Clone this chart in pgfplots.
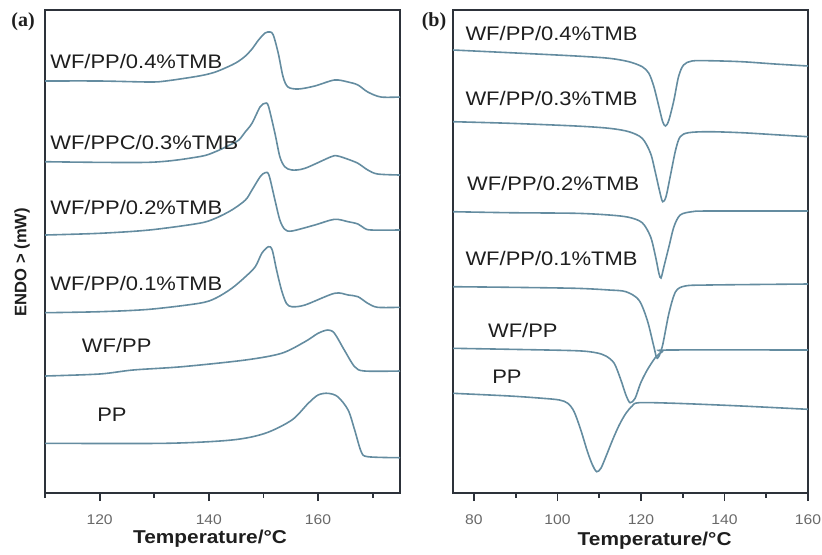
\documentclass[border=0pt]{standalone}
\usepackage{pgfplots}
\pgfplotsset{compat=1.18}
\usepackage{fontspec}
\setmainfont{Liberation Sans}[FakeStretch=1.12]
\newfontfamily\plainsans{Liberation Sans}
\newfontfamily\serifb{Liberation Serif}
\definecolor{curve}{RGB}{100,140,160}
\definecolor{frame}{RGB}{45,50,58}
\definecolor{txt}{RGB}{30,30,30}
\definecolor{ticktxt}{RGB}{105,105,105}
\pgfplotsset{
  dsc/.style={scale only axis, width=177.5pt, height=241.5pt,
    ymin=0, ymax=483, ytick=\empty,
    axis line style={line width=1pt, draw=frame},
    tick align=outside, xtick pos=lower,
    major tick length=4pt, minor tick length=2.5pt,
    every tick/.style={draw=frame, line width=0.9pt},
    xticklabel style={font=\fontsize{7}{8}\selectfont, text=ticktxt, yshift=-3.5pt},
    /pgf/number format/assume math mode=true,
    xlabel style={font=\bfseries\fontsize{9.3}{10}\selectfont, text=txt, anchor=center},
  },
}
\tikzset{lab/.style={anchor=west, inner sep=0pt, text=txt, font=\fontsize{9.8}{11}\selectfont},
  crv/.style={draw=curve, line width=0.8pt, smooth, tension=0.5, mark=none}}
\begin{document}
\begin{tikzpicture}
\useasboundingbox (0,0) rectangle (411pt,277pt);
% ---------------- panel (a) ----------------
\begin{axis}[dsc, at={(22.5pt,30.5pt)}, anchor=south west,
  xmin=110, xmax=175, xtick={120,140,160}, minor xtick={110,130,150,170},
  xlabel={Temperature/°C}, xlabel style={at={(axis description cs:0.465,-0.095)}}]
% WF/PP/0.4%TMB
\addplot[crv] coordinates {(110,412) (120,412) (129.1,411) (132.1,412) (138.2,417) (141.2,421) (144.2,428) (145.5,432) (146.7,437) (147.9,444) (149.1,453) (150.3,460) (151.2,461) (151.8,458) (152.7,440) (153.6,416) (154.5,406) (156.4,404) (159.4,407) (163.0,413) (165.5,411) (167.3,408) (169.1,401) (171.5,396) (175,396)};
% WF/PPC/0.3%TMB
\addplot[crv] coordinates {(110,331.3) (129.1,330.7) (138.2,336.3) (141.2,341.3) (144.2,349) (145.5,353) (146.7,361.3) (147.9,369.7) (149.4,386.3) (150.3,389.7) (150.9,387) (152.1,359.7) (153.0,336.3) (153.9,326.3) (155.2,323) (157.6,324.7) (162.4,336.3) (163.6,337) (165.5,333.7) (167.3,329.7) (169.1,323) (170.9,319) (175,318)};
% WF/PP/0.2%TMB
\addplot[crv] coordinates {(110,258) (120,259.7) (129.1,263) (138.2,269.7) (141.2,274.7) (144.2,283) (146.7,293) (147.9,303) (149.4,316.3) (150.3,320.3) (151.0,318) (152.1,293) (153.0,273) (153.9,263.7) (155.2,262) (159.4,268) (163.0,273.7) (165.5,271.3) (167.3,269) (168.5,264.7) (169.7,263) (175,263)};
% WF/PP/0.1%TMB
\addplot[crv] coordinates {(110,180.3) (120,181.3) (129.1,183.7) (138.2,189.7) (141.2,194.7) (144.2,204.7) (146.7,216.3) (148.5,226.3) (149.7,239.7) (150.9,246.3) (151.6,243) (152.4,223) (153.3,203) (154.2,189.7) (155.2,186.3) (157.6,188) (163.0,199.7) (165.5,198) (167.3,196.3) (169.1,189.7) (170.9,185.7) (175,185.7)};
% WF/PP
\addplot[crv] coordinates {(110,117) (120,119) (126.1,123) (135.1,126.3) (146.7,133) (153.3,139.7) (157.6,151.3) (160,159.7) (161.8,163) (163.0,159.7) (164.8,143) (166.7,126.3) (168.5,122) (175,122)};
% PP
\addplot[crv] coordinates {(110,49.7) (132.1,49.7) (144.2,53) (150.3,59.7) (155.2,73) (158.2,89.7) (160,98) (161.8,99.7) (163.6,96.3) (165.5,83) (166.7,63) (167.9,41.3) (169.1,36.3) (175,35.3)};
\node[lab] at (axis cs:110.9,432) {WF/PP/0.4\%TMB};
\node[lab] at (axis cs:110.9,351) {WF/PPC/0.3\%TMB};
\node[lab] at (axis cs:110.9,286) {WF/PP/0.2\%TMB};
\node[lab] at (axis cs:110.9,210) {WF/PP/0.1\%TMB};
\node[lab] at (axis cs:116.7,148) {WF/PP};
\node[lab] at (axis cs:119.5,78) {PP};
\end{axis}
% ---------------- panel (b) ----------------
\begin{axis}[dsc, at={(226.5pt,30.5pt)}, anchor=south west,
  xmin=75, xmax=160, xtick={80,100,120,140,160}, minor xtick={90,110,130,150},
  xlabel={Temperature/°C}, xlabel style={at={(axis description cs:0.568,-0.099)}}]
% WF/PP/0.4%TMB
\addplot[crv] coordinates {(75,443) (88.6,440.3) (104.4,437) (112.4,434.7) (117.1,431.3) (120.3,426.3) (121.9,419.7) (123.1,406.3) (124.3,386.3) (125.2,371.3) (125.9,367) (126.7,373) (127.9,393) (129.0,416.3) (130.2,428) (132.2,432) (136.2,432.3) (144.1,431.3) (152.1,429) (160,427)};
% WF/PP/0.3%TMB
\addplot[crv] coordinates {(75,371.3) (88.6,369.7) (104.4,367) (112.4,364.7) (117.1,361.3) (120.3,354.7) (122.3,339.7) (123.5,319.7) (124.5,301.3) (125.2,291.3) (126.0,296.3) (127.0,316.3) (128.3,343) (129.4,356.3) (131.4,360.3) (136.2,361.3) (144.1,360.3) (152.1,358.3) (160,356.3)};
% WF/PP/0.2%TMB
\addplot[crv] coordinates {(75,281.3) (88.6,280.3) (104.4,279.7) (112.4,278) (117.1,275.7) (120.3,270.3) (122.3,256.3) (123.5,236.3) (124.3,219.7) (124.8,215) (125.5,226.3) (126.7,246.3) (127.9,266.3) (129.4,278) (132.2,281.3) (136.2,282) (160,282)};
% WF/PP/0.1%TMB
\addplot[crv] coordinates {(75,206.3) (88.6,205.7) (104.4,204.7) (112.4,203) (116.4,201.3) (119.5,193) (121.5,173) (123.1,146.3) (123.9,134.7) (125.1,146.3) (126.7,179.7) (128.3,201.3) (130.6,207) (136.2,208) (160,209)};
% WF/PP
\addplot[crv] coordinates {(75,144.7) (88.6,143.7) (104.4,142.3) (109.2,140.3) (111.6,137) (113.6,129.7) (115.2,113) (116.4,98) (117.4,90.3) (118.6,94.7) (119.9,109.7) (121.5,123) (123.5,135.7) (125.1,141.3) (126.7,143) (160,143)};
% PP
\addplot[crv] coordinates {(75,99.7) (88.6,97) (96.5,94.7) (100.5,93) (102.5,89.7) (104.0,81.3) (105.6,63) (107.2,41.3) (108.4,28) (109.4,21.3) (110.4,24.7) (111.6,36.3) (113.2,53) (114.8,68) (116.4,79.7) (117.9,87) (119.5,90.3) (128.3,89.7) (144.1,87) (160,83.7)};
\node[lab] at (axis cs:77.9,460) {WF/PP/0.4\%TMB};
\node[lab] at (axis cs:77.9,395) {WF/PP/0.3\%TMB};
\node[lab] at (axis cs:78.3,310) {WF/PP/0.2\%TMB};
\node[lab] at (axis cs:77.9,235) {WF/PP/0.1\%TMB};
\node[lab] at (axis cs:83.3,163) {WF/PP};
\node[lab] at (axis cs:84.3,116) {PP};
\end{axis}
\node[font=\serifb\bfseries\fontsize{10}{12}\selectfont, text=txt] at (11.5pt,266pt) {(a)};
\node[font=\serifb\bfseries\fontsize{10}{12}\selectfont, text=txt] at (217pt,266pt) {(b)};
\node[rotate=90, font=\plainsans\bfseries\fontsize{8.3}{10}\selectfont, text=txt] at (11pt,146pt) {ENDO > (mW)};
\end{tikzpicture}
\end{document}
